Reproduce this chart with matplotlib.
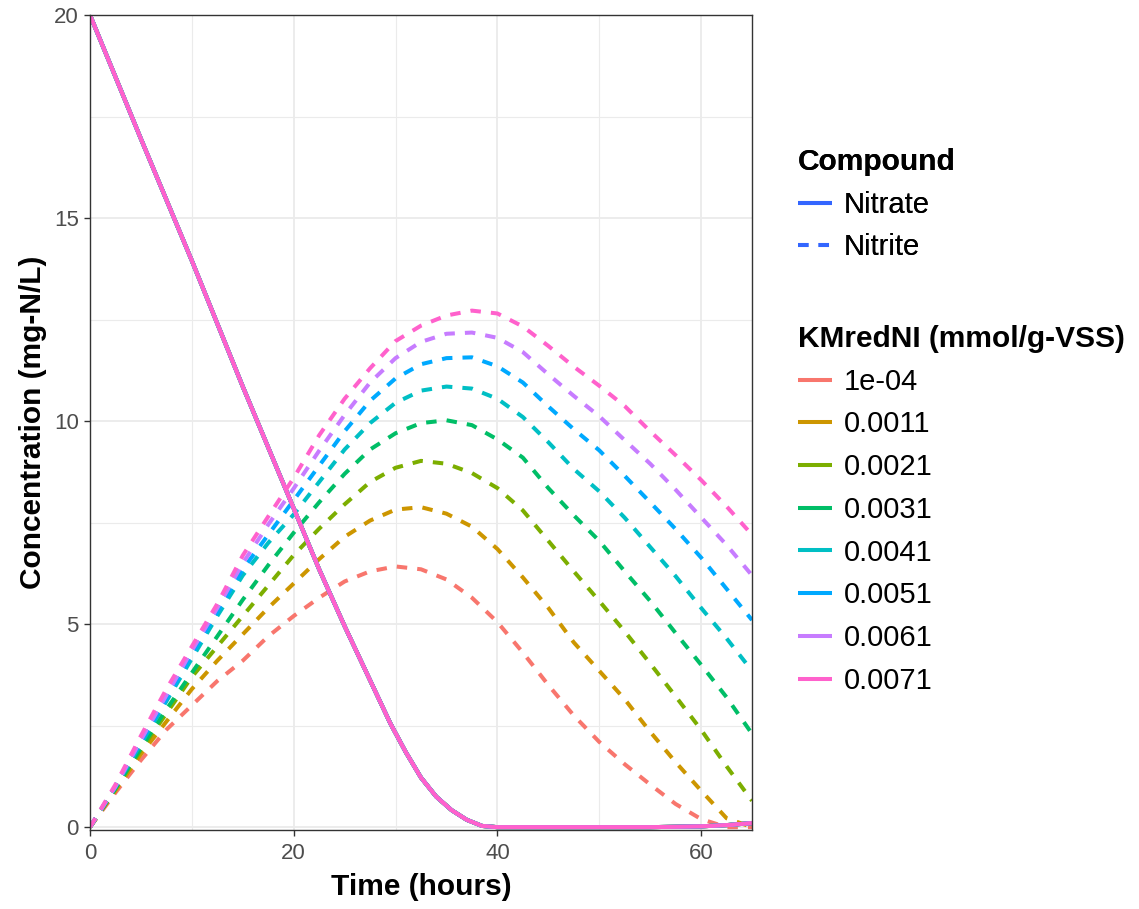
#!/usr/bin/env python3
# -*- coding: utf-8 -*-

import matplotlib
matplotlib.use("Agg")
import matplotlib.pyplot as plt
from matplotlib.lines import Line2D

plt.rcParams['font.family'] = ['Liberation Sans', 'DejaVu Sans']

# nitrite output, sampled every 2.5 h
time_h = [0, 2.5, 5, 7.5, 10, 12.5, 15, 17.5, 20, 22.5, 25, 27.5, 30, 32.5,
          35, 37.5, 40, 42.5, 45, 47.5, 50, 52.5, 55, 57.5, 60, 62.5, 65]

# nitrate is the same for every KMredNI value; denser around depletion
nitrate_time_h = [0, 5, 10, 15, 20, 22.5, 25, 26.5, 28, 29.5, 31, 32.5, 34,
                  35.5, 37, 38.5, 40, 45, 50, 55, 60, 62.5, 65]
nitrate = [20, 16.95, 13.95, 10.85, 7.85, 6.35, 4.95, 4.15, 3.35, 2.55, 1.85,
           1.22, 0.75, 0.42, 0.18, 0.03, 0, 0, 0, 0, 0.02, 0.05, 0.1]

nitrite_1e04 = [0, 0.85, 1.65, 2.4, 3.0, 3.6, 4.1, 4.7, 5.2, 5.65, 6.05, 6.3, 6.42,
                6.35, 6.1, 5.65, 5.05, 4.3, 3.5, 2.75, 2.1, 1.55, 1.05, 0.57, 0.2, 0.0, 0.0]
nitrite_0011 = [0, 0.9, 1.8, 2.6, 3.4, 4.1, 4.75, 5.4, 6.0, 6.6, 7.15, 7.55, 7.82,
                7.88, 7.72, 7.4, 6.85, 6.15, 5.4, 4.55, 3.85, 3.15, 2.35, 1.6, 0.9, 0.22, 0.0]
nitrite_0021 = [0, 0.95, 1.9, 2.8, 3.7, 4.45, 5.2, 5.95, 6.7, 7.35, 7.95, 8.5, 8.85,
                9.02, 8.95, 8.72, 8.35, 7.8, 7.05, 6.3, 5.57, 4.82, 4.03, 3.22, 2.4, 1.5, 0.65]
nitrite_0031 = [0, 0.95, 1.95, 2.9, 3.8, 4.7, 5.6, 6.45, 7.25, 8.0, 8.7, 9.3, 9.7,
                9.95, 10.02, 9.9, 9.55, 9.1, 8.35, 7.68, 7.05, 6.3, 5.57, 4.78, 4.0, 3.2, 2.3]
nitrite_0041 = [0, 1.0, 2.05, 3.1, 4.15, 5.2, 6.2, 7.0, 7.7, 8.5, 9.3, 9.95, 10.45,
                10.75, 10.85, 10.8, 10.55, 10.1, 9.48, 8.82, 8.27, 7.62, 6.9, 6.18, 5.4, 4.65, 3.85]
nitrite_0051 = [0, 1.0, 2.1, 3.15, 4.25, 5.3, 6.35, 7.2, 8.05, 8.9, 9.75, 10.5, 11.05,
                11.4, 11.55, 11.57, 11.35, 10.95, 10.36, 9.8, 9.28, 8.65, 8.0, 7.34, 6.64, 5.87, 5.1]
nitrite_0061 = [0, 1.0, 2.15, 3.25, 4.35, 5.4, 6.5, 7.45, 8.34, 9.27, 10.15, 10.95, 11.55,
                11.95, 12.15, 12.18, 12.05, 11.7, 11.15, 10.62, 10.12, 9.53, 8.95, 8.31, 7.63, 6.95, 6.2]
nitrite_0071 = [0, 1.05, 2.25, 3.4, 4.45, 5.5, 6.69, 7.65, 8.6, 9.65, 10.55, 11.3, 11.97,
                12.35, 12.6, 12.72, 12.65, 12.33, 11.85, 11.34, 10.87, 10.37, 9.75, 9.16, 8.55, 7.9, 7.2]

km_labels = ['1e-04', '0.0011', '0.0021', '0.0031', '0.0041', '0.0051', '0.0061', '0.0071']
km_colors = ['#F8766D', '#CD9600', '#7CAE00', '#00BE67',
             '#00BFC4', '#00A9FF', '#C77CFF', '#FF61CC']
nitrite_runs = [nitrite_1e04, nitrite_0011, nitrite_0021, nitrite_0031,
                nitrite_0041, nitrite_0051, nitrite_0061, nitrite_0071]

LW = 2.9
DASH = (0, (2.6, 2.5))
TEXT_GREY = '#4D4D4D'
BORDER = '#333333'
LEG_KW = dict(loc='upper left', frameon=False, fontsize=21, handlelength=1.17,
              handletextpad=0.41, labelspacing=0.505, borderpad=0,
              borderaxespad=0, alignment='left',
              title_fontproperties={'weight': 'bold', 'size': 21.5})


def main():
    fig = plt.figure(figsize=(11.39, 9.09), dpi=100)
    ax = fig.add_axes([90 / 1139, 1 - 830 / 909, 662 / 1139, 815 / 909])

    for col, nitrite in zip(km_colors, nitrite_runs):
        ax.plot(nitrate_time_h, nitrate, color=col, lw=LW, solid_capstyle='butt')
        ax.plot(time_h, nitrite, color=col, lw=LW, linestyle=DASH,
                dash_capstyle='butt')

    ax.set_xlim(0, 65)
    ax.set_ylim(-0.07, 20)
    ax.set_xticks([0, 20, 40, 60])
    ax.set_xticks([10, 30, 50], minor=True)
    ax.set_yticks([0, 5, 10, 15, 20])
    ax.set_yticks([2.5, 7.5, 12.5, 17.5], minor=True)

    ax.grid(which='major', color='#EBEBEB', lw=1.3)
    ax.grid(which='minor', color='#EBEBEB', lw=0.8)
    ax.set_axisbelow(True)
    for sp in ax.spines.values():
        sp.set_color(BORDER)
        sp.set_linewidth(1.0)

    ax.tick_params(which='major', length=4.5, width=1.0, color=BORDER,
                   labelsize=16, labelcolor=TEXT_GREY, pad=3.5)
    ax.tick_params(axis='x', which='major', pad=5)
    ax.tick_params(which='minor', length=0)

    ax.set_xlabel('Time (hours)', fontsize=21.5, fontweight='bold', labelpad=6)
    ax.set_ylabel('Concentration (mg-N/L)', fontsize=21.5, fontweight='bold', labelpad=5)

    # legends
    blue = '#3366FF'
    comp_handles = [Line2D([], [], color=blue, lw=LW, solid_capstyle='butt'),
                    Line2D([], [], color=blue, lw=LW, linestyle=DASH,
                           dash_capstyle='butt')]
    leg1 = fig.legend(comp_handles, ['Nitrate', 'Nitrite'], title='Compound',
                      bbox_to_anchor=(798 / 1139, 1 - 148 / 909), **LEG_KW)
    km_handles = [Line2D([], [], color=c, lw=LW, solid_capstyle='butt')
                  for c in km_colors]
    fig.legend(km_handles, km_labels, title='KMredNI (mmol/g-VSS)',
               bbox_to_anchor=(798 / 1139, 1 - 325 / 909), **LEG_KW)
    fig.add_artist(leg1)

    fig.savefig('out.png', dpi=100)


if __name__ == "__main__":
    main()
